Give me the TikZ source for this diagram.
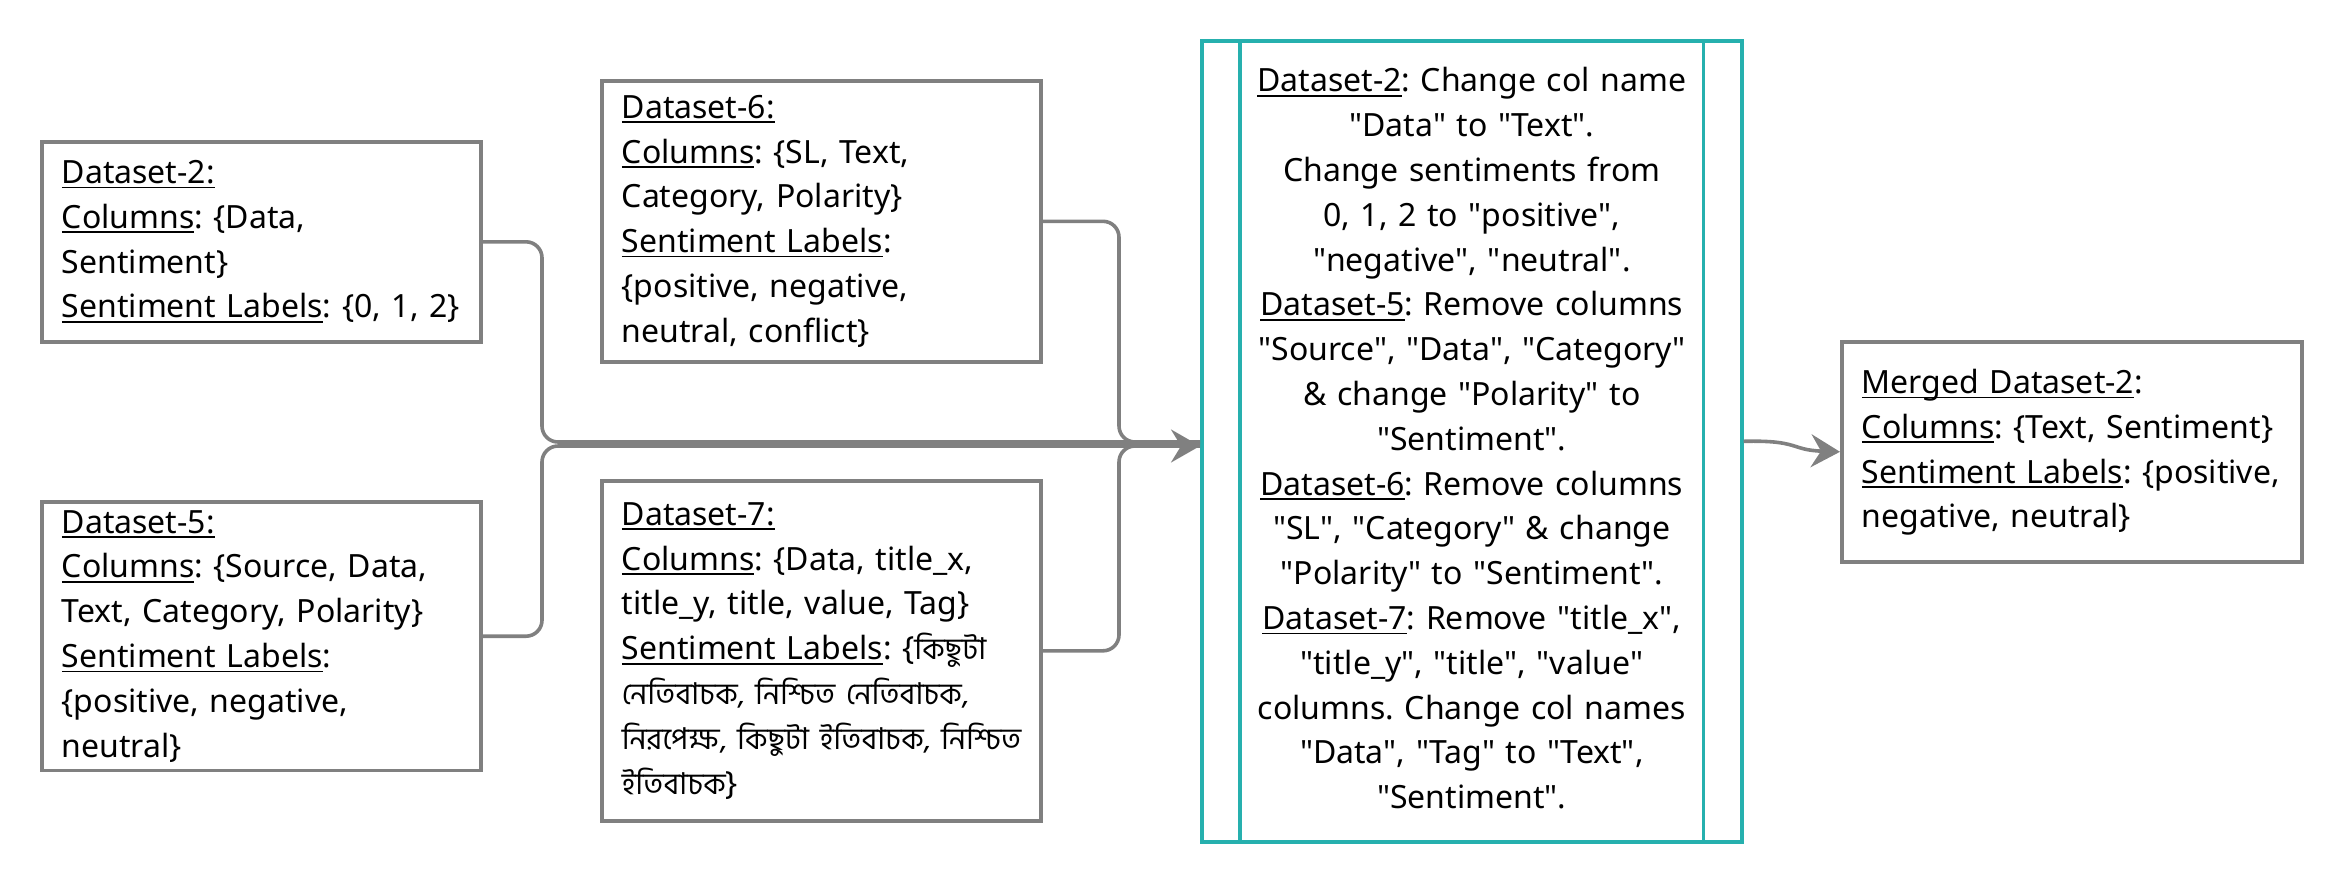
\documentclass[tikz,border=0pt]{standalone}
\usepackage{fontspec}
\setmainfont{Noto Sans}
\newfontfamily\bn[Script=Bengali,Scale=0.94]{Hind Siliguri}
\usetikzlibrary{arrows.meta}
\definecolor{boxgray}{RGB}{128,128,128}
\definecolor{tealc}{RGB}{38,176,174}
\newsavebox\ulbox
\newcommand\ulx[1]{\leavevmode\sbox\ulbox{#1}\rlap{\rule[-2.4pt]{\wd\ulbox}{0.85pt}}\usebox\ulbox}
\newcommand\qq[1]{\textquotedbl#1\textquotedbl}
\frenchspacing
\begin{document}
\begin{tikzpicture}[x=0.5pt,y=-0.5pt,
  dbox/.style={draw=boxgray, line width=1.8pt, rectangle, anchor=north west,
    inner sep=0pt, align=left, font=\fontsize{16}{22.4}\selectfont},
  pbox/.style={draw=tealc, line width=1.8pt, rectangle, anchor=north west,
    inner sep=0pt, align=center, font=\fontsize{16}{22.4}\selectfont},
  conn/.style={draw=boxgray, line width=1.8pt, rounded corners=8pt},
  arr/.style={-{Stealth[length=14.5pt,width=16.5pt,inset=5pt]}}
]
\useasboundingbox (0,0) rectangle (2340,880);

\node[dbox, minimum width=219.5pt, minimum height=100pt, text width=199.5pt] (d2) at (40,140)
 {\begin{tabular}{@{}l@{}}
  \ulx{Dataset-2:}\\
  \ulx{Columns}: \{Data,\\
  Sentiment\}\\
  \ulx{Sentiment Labels}: \{0, 1, 2\}
  \end{tabular}};

\node[dbox, minimum width=219.5pt, minimum height=130pt, text width=199.5pt] (d5) at (40,500)
 {\begin{tabular}{@{}l@{}}
  \ulx{Dataset-5:}\\
  \ulx{Columns}: \{Source, Data,\\
  Text, Category, Polarity\}\\
  \ulx{Sentiment Labels}:\\
  \{positive, negative,\\
  neutral\}
  \end{tabular}};

\node[dbox, minimum width=219.5pt, minimum height=140.5pt, text width=199.5pt] (d6) at (600,79)
 {\begin{tabular}{@{}l@{}}
  \ulx{Dataset-6:}\\
  \ulx{Columns}: \{SL, Text,\\
  Category, Polarity\}\\
  \ulx{Sentiment Labels}:\\
  \{positive, negative,\\
  neutral, conflict\}
  \end{tabular}};

\node[dbox, minimum width=219.5pt, minimum height=170pt, text width=199.5pt] (d7) at (600,479)
 {\begin{tabular}{@{}l@{}}
  \ulx{Dataset-7:}\\
  \ulx{Columns}: \{Data, title\_x,\\
  title\_y, title, value, Tag\}\\
  \ulx{Sentiment Labels}: \{{\bn কিছুটা}\\
  {\bn নেতিবাচক, নিশ্চিত নেতিবাচক,}\\
  {\bn নিরপেক্ষ, কিছুটা ইতিবাচক, নিশ্চিত}\\
  {\bn ইতিবাচক}\}
  \end{tabular}};

\node[pbox, minimum width=270pt, minimum height=400.5pt, text width=250pt] (proc) at (1200,39)
 {\begin{tabular}{@{}c@{}}
  \ulx{Dataset-2}: Change col name\\
  \qq{Data} to \qq{Text}.\\
  Change sentiments from\\
  0, 1, 2 to \qq{positive},\\
  \qq{negative}, \qq{neutral}.\\
  \ulx{Dataset-5}: Remove columns\\
  \qq{Source}, \qq{Data}, \qq{Category}\\
  \& change \qq{Polarity} to\\
  \qq{Sentiment}.\\
  \ulx{Dataset-6}: Remove columns\\
  \qq{SL}, \qq{Category} \& change\\
  \qq{Polarity} to \qq{Sentiment}.\\
  \ulx{Dataset-7}: Remove \qq{title\_x},\\
  \qq{title\_y}, \qq{title}, \qq{value}\\
  columns. Change col names\\
  \qq{Data}, \qq{Tag} to \qq{Text},\\
  \qq{Sentiment}.
  \end{tabular}};
\draw[draw=tealc, line width=1.8pt] ([xshift=20pt]proc.north west) -- ([xshift=20pt]proc.south west);
\draw[draw=tealc, line width=1.8pt] ([xshift=-20pt]proc.north east) -- ([xshift=-20pt]proc.south east);

\node[dbox, minimum width=230pt, minimum height=110pt, text width=210pt] (mg) at (1840,340)
 {\begin{tabular}{@{}l@{}}
  \ulx{Merged Dataset-2}:\\
  \ulx{Columns}: \{Text, Sentiment\}\\
  \ulx{Sentiment Labels}: \{positive,\\
  negative, neutral\}
  \end{tabular}};

\coordinate (b1) at (542,0);
\coordinate (b2) at (1119,0);
\coordinate (jtop) at (1200,442);
\coordinate (jbot) at (1200,446);

\draw[conn] (d2.east) -- (d2.east -| b1) -- (jtop -| b1) -- (jtop);
\draw[conn] (d5.east) -- (d5.east -| b1) -- (jbot -| b1) -- (jbot);
\draw[conn] (d6.east) -- (d6.east -| b2) -- (jtop -| b2) -- (jtop);
\draw[conn, arr] (d7.east) -- (d7.east -| b2) -- (jbot -| b2) -- (proc.west |- jbot);

\draw[conn, arr] (proc.east) .. controls (1800,440) and (1790,450) .. (mg.west);
\end{tikzpicture}
\end{document}
